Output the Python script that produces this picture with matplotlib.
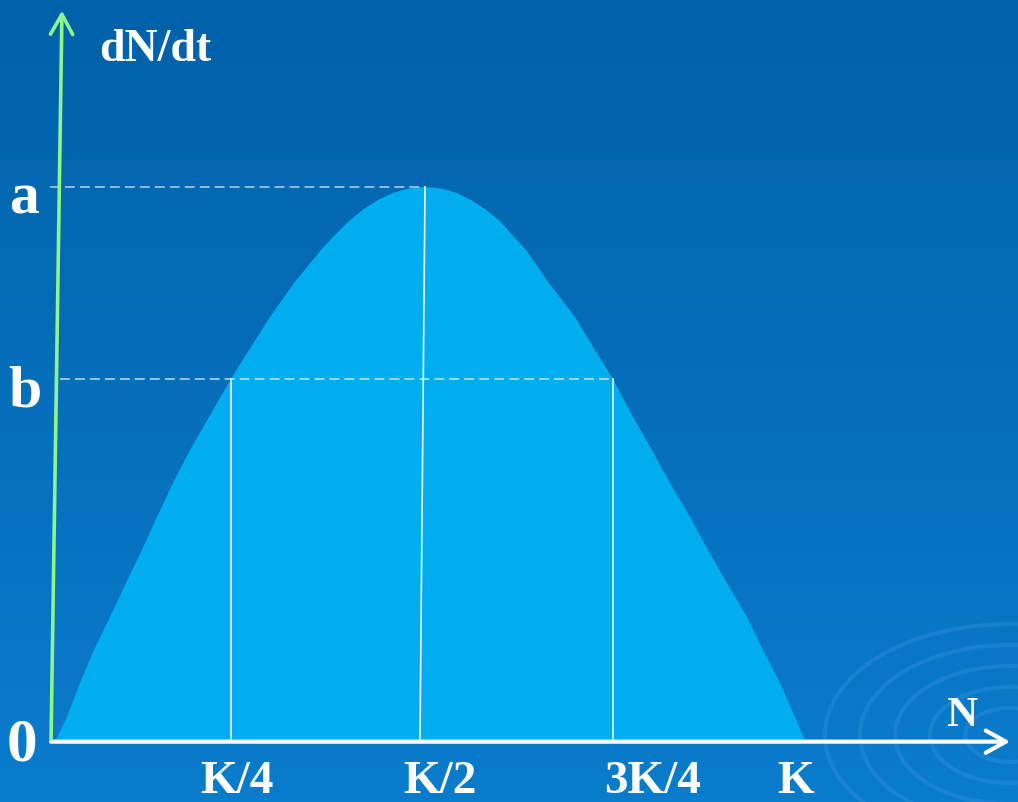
import numpy as np
import matplotlib
matplotlib.use("Agg")
import matplotlib.pyplot as plt
from matplotlib.patches import Ellipse, FancyArrowPatch

# Curva dN/dt frente a N (N en fracciones de K, dN/dt en fracciones de a)
curva_N = [0.0053, 0.0199, 0.0372, 0.0558, 0.0770, 0.0983, 0.1195, 0.1394,
           0.1607, 0.1833, 0.2085, 0.2377, 0.2616, 0.2895, 0.3214, 0.3572,
           0.3718, 0.3958, 0.4143, 0.4329, 0.4529, 0.4661, 0.4781, 0.4954,
           0.5126, 0.5246, 0.5378, 0.5564, 0.5750, 0.5936, 0.6149, 0.6295,
           0.6600, 0.6946, 0.7211, 0.7450, 0.7716, 0.7968, 0.8207, 0.8473,
           0.8712, 0.8964, 0.9230, 0.9442, 0.9668, 0.9867, 1.0]
curva_r = [0.0, 0.0416, 0.1031, 0.1627, 0.2224, 0.2839, 0.3436, 0.4033,
           0.4647, 0.5244, 0.5841, 0.6528, 0.7052, 0.7649, 0.8264, 0.8861,
           0.9078, 0.9403, 0.9602, 0.9765, 0.9892, 0.9946, 0.9982, 1.0,
           0.9982, 0.9946, 0.9892, 0.9765, 0.9602, 0.9403, 0.9078, 0.8861,
           0.8264, 0.7649, 0.7052, 0.6528, 0.5841, 0.5244, 0.4647, 0.4033,
           0.3436, 0.2839, 0.2224, 0.1627, 0.1031, 0.0416, 0.0]

# Lineas verticales (K/4, K/2, 3K/4): posicion abajo, arriba y altura
lineas_N_base = [0.2377, 0.4887, 0.7450]
lineas_N_top = [0.2377, 0.4954, 0.7450]
lineas_r = [0.6528, 1.0, 0.6528]

# Niveles a y b
nivel_a = 1.0
nivel_b = 0.6528

# Etiquetas del eje N
etiquetas_N = ["K/4", "K/2", "3K/4", "K"]
pos_etiquetas_N = [0.246, 0.515, 0.797, 0.987]

W, H = 1018, 802
fig = plt.figure(figsize=(W / 100, H / 100), dpi=100)

# Fondo con degradado
fondo = fig.add_axes([0, 0, 1, 1])
grad = np.linspace(0, 1, 256).reshape(-1, 1)
c_top = np.array([0x00, 0x62, 0xa8]) / 255
c_bot = np.array([0x0a, 0x7c, 0xcc]) / 255
img = c_top + grad[:, :, None] * (c_bot - c_top)
fondo.imshow(img, aspect="auto", extent=[0, W, H, 0])
fondo.set_xlim(0, W)
fondo.set_ylim(H, 0)
fondo.axis("off")

# Ondas decorativas abajo a la derecha
for rx in [45, 80, 115, 150, 185]:
    fondo.add_patch(Ellipse((1010, 735), 2 * rx, 1.2 * rx, fill=False,
                            ec=(0.35, 0.65, 0.95, 0.22), lw=3))

# Ejes principales (datos)
ax = fig.add_axes([0, 0, 1, 1])
ax.patch.set_alpha(0)
x0, xK = 52, 805
y0, ya = 740, 187
ax.set_xlim(-x0 / (xK - x0), (W - x0) / (xK - x0))
ax.set_ylim(-(H - y0) / (y0 - ya), y0 / (y0 - ya))
ax.axis("off")

ax.fill(curva_N, curva_r, color="#00aeef", lw=0, zorder=2)

# Lineas discontinuas a y b
ax.plot([-0.003, lineas_N_top[1]], [nivel_a, nivel_a], color="white", alpha=0.7,
        lw=1.1, dashes=(6.5, 3.3), zorder=3)
ax.plot([0.01, lineas_N_top[2]], [nivel_b, nivel_b], color="white", alpha=0.75,
        lw=1.1, dashes=(6.5, 3.3), zorder=3)

# Lineas verticales
for nb, nt, r in zip(lineas_N_base, lineas_N_top, lineas_r):
    ax.plot([nb, nt], [0, r], color="white", lw=1.2, alpha=0.9, zorder=3)

# Eje N (blanco) y eje dN/dt (verde)
ax.add_patch(FancyArrowPatch((-0.005, -0.003), (1.276, -0.003),
                             arrowstyle="->,head_length=9,head_width=5",
                             color="white", lw=3, mutation_scale=1.6, zorder=4))
ax.add_patch(FancyArrowPatch((-0.0013, -0.0036), (0.0133, 1.324),
                             arrowstyle="->,head_length=9,head_width=5",
                             color="#8ef58e", lw=2.6, mutation_scale=1.6, zorder=4))

fuente = dict(family="Liberation Serif", weight="bold", color="white")
ax.text(0.063, 1.248, "dN/dt", fontsize=33, ha="left", va="center", **fuente)
ax.text(-0.037, nivel_a - 0.022, "a", fontsize=43, ha="center", va="center", **fuente)
ax.text(-0.036, nivel_b - 0.025, "b", fontsize=43, ha="center", va="center", **fuente)
ax.text(-0.04, -0.01, "0", fontsize=44, ha="center", va="center", **fuente)
for lab, pos in zip(etiquetas_N, pos_etiquetas_N):
    ax.text(pos, -0.076, lab, fontsize=34, ha="center", va="center", **fuente)
ax.text(1.208, 0.044, "N", fontsize=31, ha="center", va="center", **fuente)

fig.savefig("out.png", dpi=100)
